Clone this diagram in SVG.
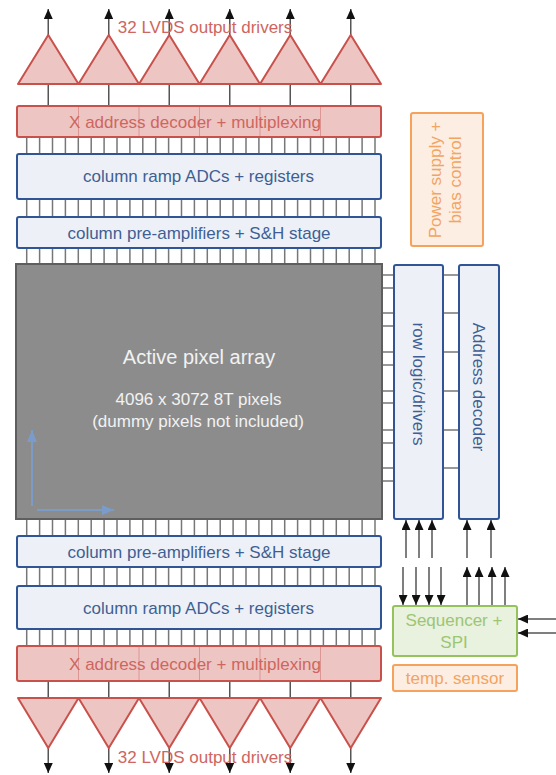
<svg xmlns="http://www.w3.org/2000/svg" width="556" height="775" viewBox="0 0 556 775">
<defs>
<style>
text{font-family:"Liberation Sans",Arial,sans-serif;text-anchor:middle}
.red{fill:#edc5c3;stroke:#c9514c;stroke-width:2}
.redtxt{fill:#cf6560;font-size:17px}
.part{stroke:#dc9794;stroke-width:1;fill:none}
.blue{fill:#edf1f7;stroke:#2f5597;stroke-width:2}
.bluetxt{fill:#3f5f94;font-size:17px}
.orange{fill:#fdeee3;stroke:#f6a25c;stroke-width:2}
.orangetxt{fill:#f3a461;font-size:17px}
.green{fill:#e9f1df;stroke:#93c35a;stroke-width:2}
.greentxt{fill:#9cc672;font-size:17px}
.pin{stroke:#777;stroke-width:1.5;fill:none}
.wire{stroke:#555;stroke-width:1.5;fill:none}
.arr{stroke:#555;stroke-width:1.5;fill:none;marker-end:url(#ah)}
.axis{stroke:#7b9cc9;stroke-width:2;fill:none;marker-end:url(#ahb)}
</style>
<marker id="ah" markerUnits="userSpaceOnUse" markerWidth="10" markerHeight="9" refX="10" refY="4.5" orient="auto"><path d="M0,0L10,4.5L0,9z" fill="#111"/></marker>
<marker id="ahb" markerUnits="userSpaceOnUse" markerWidth="12" markerHeight="10" refX="12" refY="5" orient="auto"><path d="M0,0L12,5L0,10z" fill="#7b9cc9"/></marker>
</defs>
<rect width="556" height="775" fill="#fff"/>

<g id="connectors">
<path class="pin" d="M26.7 137v17m12.9-17v17m12.9-17v17m12.9-17v17m12.9-17v17m12.9-17v17m12.9-17v17m12.9-17v17m12.9-17v17m12.9-17v17m12.9-17v17m12.9-17v17m12.9-17v17m12.9-17v17m12.9-17v17m12.9-17v17m12.9-17v17m12.9-17v17m12.9-17v17m12.9-17v17m12.9-17v17m12.9-17v17m12.9-17v17m12.9-17v17m12.9-17v17m12.9-17v17m12.9-17v17m12.9-17v17"/>
<path class="pin" d="M26.7 199v18m12.9-18v18m12.9-18v18m12.9-18v18m12.9-18v18m12.9-18v18m12.9-18v18m12.9-18v18m12.9-18v18m12.9-18v18m12.9-18v18m12.9-18v18m12.9-18v18m12.9-18v18m12.9-18v18m12.9-18v18m12.9-18v18m12.9-18v18m12.9-18v18m12.9-18v18m12.9-18v18m12.9-18v18m12.9-18v18m12.9-18v18m12.9-18v18m12.9-18v18m12.9-18v18m12.9-18v18"/>
<path class="pin" d="M26.7 248v16m12.9-16v16m12.9-16v16m12.9-16v16m12.9-16v16m12.9-16v16m12.9-16v16m12.9-16v16m12.9-16v16m12.9-16v16m12.9-16v16m12.9-16v16m12.9-16v16m12.9-16v16m12.9-16v16m12.9-16v16m12.9-16v16m12.9-16v16m12.9-16v16m12.9-16v16m12.9-16v16m12.9-16v16m12.9-16v16m12.9-16v16m12.9-16v16m12.9-16v16m12.9-16v16m12.9-16v16"/>
<path class="pin" d="M26.7 519v17m12.9-17v17m12.9-17v17m12.9-17v17m12.9-17v17m12.9-17v17m12.9-17v17m12.9-17v17m12.9-17v17m12.9-17v17m12.9-17v17m12.9-17v17m12.9-17v17m12.9-17v17m12.9-17v17m12.9-17v17m12.9-17v17m12.9-17v17m12.9-17v17m12.9-17v17m12.9-17v17m12.9-17v17m12.9-17v17m12.9-17v17m12.9-17v17m12.9-17v17m12.9-17v17m12.9-17v17"/>
<path class="pin" d="M26.7 567v19m12.9-19v19m12.9-19v19m12.9-19v19m12.9-19v19m12.9-19v19m12.9-19v19m12.9-19v19m12.9-19v19m12.9-19v19m12.9-19v19m12.9-19v19m12.9-19v19m12.9-19v19m12.9-19v19m12.9-19v19m12.9-19v19m12.9-19v19m12.9-19v19m12.9-19v19m12.9-19v19m12.9-19v19m12.9-19v19m12.9-19v19m12.9-19v19m12.9-19v19m12.9-19v19m12.9-19v19"/>
<path class="pin" d="M26.7 629v17m12.9-17v17m12.9-17v17m12.9-17v17m12.9-17v17m12.9-17v17m12.9-17v17m12.9-17v17m12.9-17v17m12.9-17v17m12.9-17v17m12.9-17v17m12.9-17v17m12.9-17v17m12.9-17v17m12.9-17v17m12.9-17v17m12.9-17v17m12.9-17v17m12.9-17v17m12.9-17v17m12.9-17v17m12.9-17v17m12.9-17v17m12.9-17v17m12.9-17v17m12.9-17v17m12.9-17v17"/>
<path class="pin" d="M382 275h12M382 288h12M382 313h12M382 326h12M382 352h12M382 365h12M382 391h12M382 403h12M382 430h12M382 443h12M382 468h12M382 481h12"/>
<path class="pin" d="M443 275h16M443 313h16M443 352h16M443 391h16M443 430h16M443 468h16"/>
<path class="wire" d="M48.25 84V106M108.75 84V106M169.25 84V106M229.75 84V106M290.25 84V106M350.75 84V106"/>
<path class="wire" d="M48.25 681V698M108.75 681V698M169.25 681V698M229.75 681V698M290.25 681V698M350.75 681V698"/>
<path class="arr" d="M48.25 35V9"/><path class="arr" d="M108.75 35V9"/><path class="arr" d="M169.25 35V9"/><path class="arr" d="M229.75 35V9"/><path class="arr" d="M290.25 35V9"/><path class="arr" d="M350.75 35V9"/>
<path class="arr" d="M48.25 748V773"/><path class="arr" d="M108.75 748V773"/><path class="arr" d="M169.25 748V773"/><path class="arr" d="M229.75 748V773"/><path class="arr" d="M290.25 748V773"/><path class="arr" d="M350.75 748V773"/>
<path class="arr" d="M406 558V520"/><path class="arr" d="M419 558V520"/><path class="arr" d="M432 558V520"/>
<path class="arr" d="M467 558V520"/><path class="arr" d="M491 558V520"/>
<path class="arr" d="M403 567V605"/><path class="arr" d="M416 567V605"/><path class="arr" d="M429 567V605"/><path class="arr" d="M441 567V605"/>
<path class="arr" d="M467 606V567"/><path class="arr" d="M479 606V567"/><path class="arr" d="M492 606V567"/><path class="arr" d="M505 606V567"/>
<path class="arr" d="M556 619H518"/><path class="arr" d="M556 633H518"/>
</g>

<g id="drivers-top">
<path class="red" d="M18 84L48.25 35L78.5 84ZM78.5 84L108.75 35L139 84ZM139 84L169.25 35L199.5 84ZM199.5 84L229.75 35L260 84ZM260 84L290.25 35L320.5 84ZM320.5 84L350.75 35L381 84Z" stroke-linejoin="round"/>
<text class="redtxt" x="205" y="33">32 LVDS output drivers</text>
</g>

<g id="xdec-top">
<rect class="red" x="17" y="106" width="364" height="31" rx="2"/>
<path class="part" d="M78.5 107V136M139 107V136M199.5 107V136M260 107V136M320.5 107V136"/>
<text class="redtxt" x="195" y="127.5">X address decoder + multiplexing</text>
</g>

<g id="adc-top">
<rect class="blue" x="17" y="154" width="364" height="45" rx="2"/>
<text class="bluetxt" x="198.5" y="182">column ramp ADCs + registers</text>
</g>

<g id="preamp-top">
<rect class="blue" x="17" y="217" width="364" height="31" rx="2"/>
<text class="bluetxt" x="199" y="238.5">column pre-amplifiers + S&amp;H stage</text>
</g>

<g id="pixel-array">
<rect x="16" y="264" width="366" height="255" fill="#8c8c8c" stroke="#5e5e5e" stroke-width="2"/>
<text x="199" y="364" fill="#f2f2f2" style="font-size:20px">Active pixel array</text>
<text x="198.5" y="405" fill="#f2f2f2" style="font-size:17px">4096 x 3072 8T pixels</text>
<text x="198" y="427" fill="#f2f2f2" style="font-size:17px">(dummy pixels not included)</text>
<path class="axis" d="M32 506V430"/>
<path class="axis" d="M37 510H114"/>
</g>

<g id="preamp-bottom">
<rect class="blue" x="17" y="536" width="364" height="31" rx="2"/>
<text class="bluetxt" x="199" y="557.5">column pre-amplifiers + S&amp;H stage</text>
</g>

<g id="adc-bottom">
<rect class="blue" x="17" y="586" width="364" height="43" rx="2"/>
<text class="bluetxt" x="198.5" y="613.5">column ramp ADCs + registers</text>
</g>

<g id="xdec-bottom">
<rect class="red" x="17" y="646" width="364" height="35" rx="2"/>
<path class="part" d="M78.5 647V680M139 647V680M199.5 647V680M260 647V680M320.5 647V680"/>
<text class="redtxt" x="195" y="669.5">X address decoder + multiplexing</text>
</g>

<g id="drivers-bottom">
<path class="red" d="M18 698L48.25 748L78.5 698ZM78.5 698L108.75 748L139 698ZM139 698L169.25 748L199.5 698ZM199.5 698L229.75 748L260 698ZM260 698L290.25 748L320.5 698ZM320.5 698L350.75 748L381 698Z" stroke-linejoin="round"/>
<text class="redtxt" x="205" y="763">32 LVDS output drivers</text>
</g>

<g id="row-logic">
<rect class="blue" x="394" y="265" width="49" height="254" rx="2"/>
<text class="bluetxt" transform="translate(418.5,384) rotate(90)" y="6">row logic/drivers</text>
</g>

<g id="address-decoder">
<rect class="blue" x="459" y="265" width="40" height="254" rx="2"/>
<text class="bluetxt" transform="translate(479,387) rotate(90)" y="6">Address decoder</text>
</g>

<g id="power-supply">
<rect class="orange" x="411" y="113" width="72" height="133" rx="2"/>
<text class="orangetxt" transform="translate(445,180) rotate(-90)" y="-4">Power supply +</text>
<text class="orangetxt" transform="translate(445,180) rotate(-90)" y="16">bias control</text>
</g>

<g id="sequencer">
<rect class="green" x="393" y="606" width="124" height="50" rx="2"/>
<text class="greentxt" x="454" y="626">Sequencer +</text>
<text class="greentxt" x="454" y="648">SPI</text>
</g>

<g id="temp-sensor">
<rect class="orange" x="393" y="665" width="124" height="26" rx="2"/>
<text class="orangetxt" x="455" y="684">temp. sensor</text>
</g>
</svg>
